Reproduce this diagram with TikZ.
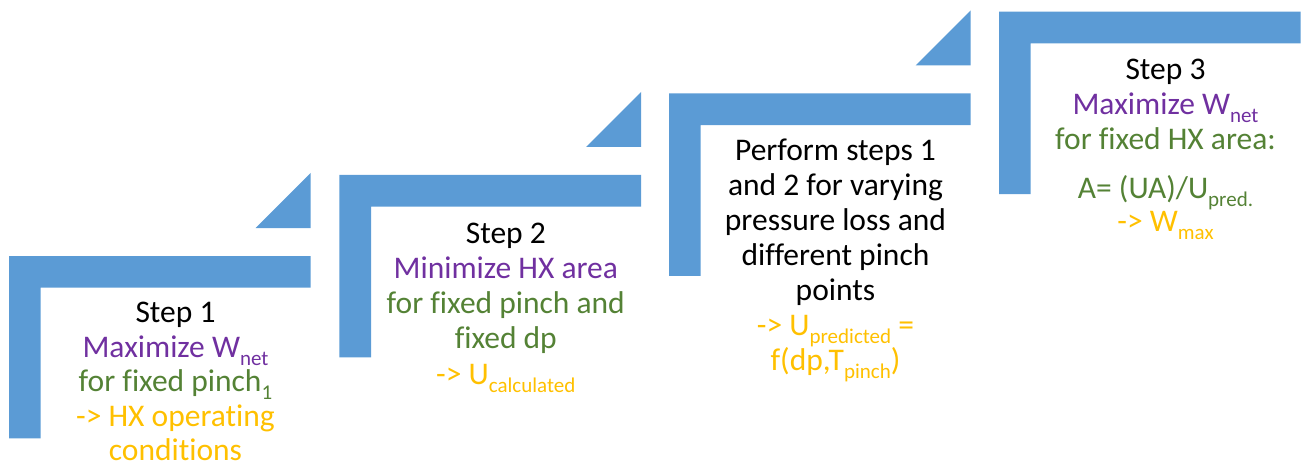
\documentclass[tikz,border=0pt]{standalone}
\usepackage{fontspec}
\setmainfont{Carlito}[Ligatures={TeX,NoCommon}]
\definecolor{stepblue}{HTML}{5B9BD5}
\definecolor{vpurple}{HTML}{7030A0}
\definecolor{vgreen}{HTML}{548235}
\definecolor{vgold}{HTML}{FFC000}
\newcommand{\lowsub}[1]{\raisebox{-8pt}{\fontsize{21}{21}\selectfont #1}}
\AtBeginDocument{\setlength{\lineskiplimit}{-50pt}}
\begin{document}
\begin{tikzpicture}[x=1pt,y=-1pt,
  bracket/.style={fill=stepblue,draw=none},
  steptext/.style={align=center,anchor=north,inner sep=0pt,
    font=\fontsize{31.5}{35}\selectfont}]
\useasboundingbox (0,0) rectangle (1307,468);
% L-shaped brackets
\foreach \xo/\yo in {9/256, 339.3/175, 669/93.5, 999/11.7}{
  \fill[bracket] (\xo,\yo) -- ++(301.7,0) -- ++(0,31.7) -- ++(-270,0)
     -- ++(0,150.6) -- ++(-31.7,0) -- cycle;
}
% triangles
\foreach \xo/\yo in {9/256, 339.3/175, 669/93.5}{
  \fill[bracket] (\xo+301.7,\yo-83) -- (\xo+301.7,\yo-28) -- (\xo+246.7,\yo-28) -- cycle;
}
% texts
\node[steptext,font=\fontsize{31.5}{34.5}\selectfont] (t1) at (175.5,298.5) {\rule{0pt}{24pt}Step 1\\
  \textcolor{vpurple}{Maximize W\lowsub{net}}\\
  \textcolor{vgreen}{for fixed pinch\lowsub{1}}\\
  \textcolor{vgold}{-> HX operating}\\
  \textcolor{vgold}{conditions}};
\node[steptext] (t2) at (505.8,219) {\rule{0pt}{24pt}Step 2\\
  \textcolor{vpurple}{Minimize HX area}\\
  \textcolor{vgreen}{for fixed pinch and}\\
  \textcolor{vgreen}{fixed dp}\\[1pt]
  \textcolor{vgold}{-> U\lowsub{calculated}}};
\node[steptext] (t3) at (835.5,136) {\rule{0pt}{24pt}Perform steps 1\\
  and 2 for varying\\
  pressure loss and\\
  different pinch\\
  points\\
  \textcolor{vgold}{-> U\lowsub{predicted} =}\\
  \textcolor{vgold}{f(dp,T\lowsub{pinch})}};
\node[steptext] (t4) at (1165.5,55.5) {\rule{0pt}{24pt}Step 3\\
  \textcolor{vpurple}{Maximize W\lowsub{net}}\\
  \textcolor{vgreen}{for fixed HX area:}\\[14pt]
  \textcolor{vgreen}{A= (UA)/U\lowsub{pred.}}\\[-2pt]
  \textcolor{vgold}{-> W\lowsub{max}}};
\end{tikzpicture}
\end{document}
